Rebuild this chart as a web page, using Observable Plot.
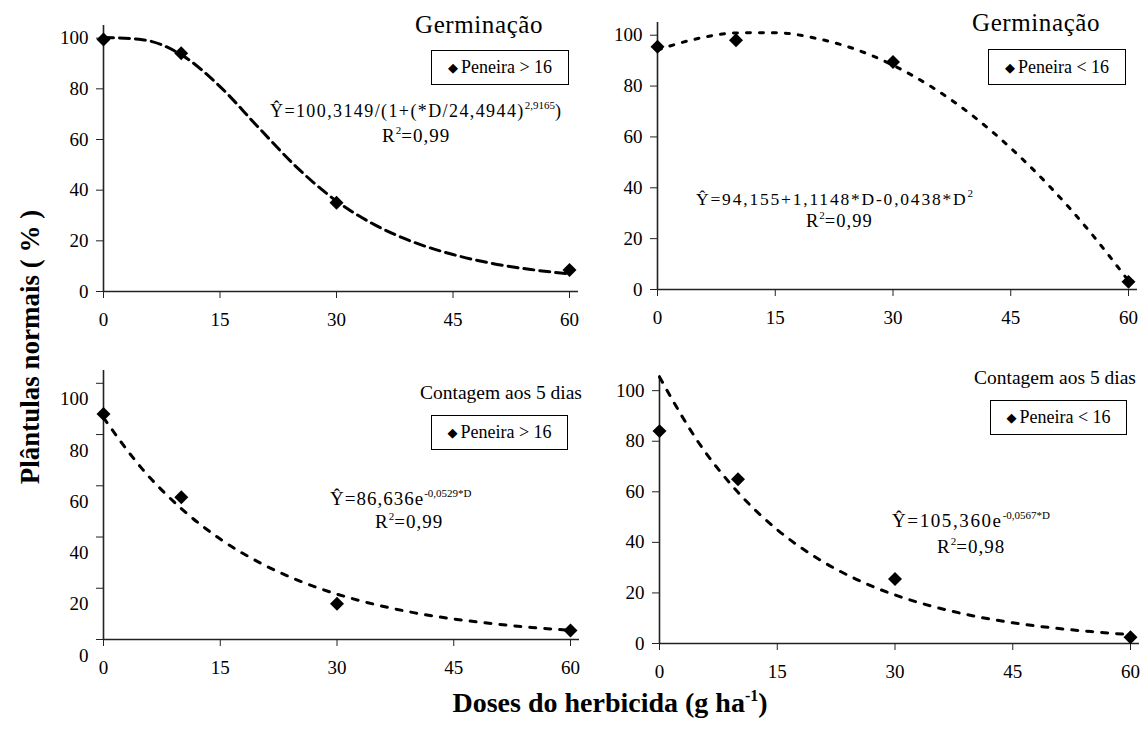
<!DOCTYPE html>
<html><head><meta charset="utf-8">
<script src="https://cdn.jsdelivr.net/npm/d3@7"></script>
<script src="https://cdn.jsdelivr.net/npm/@observablehq/plot@0.6"></script>
<style>
html,body{margin:0;padding:0;background:#fff;}
#wrap{position:relative;width:1144px;height:733px;overflow:hidden;font-family:'Liberation Serif','Tinos','DejaVu Serif',serif;color:#000;}
.t{position:absolute;white-space:nowrap;line-height:1;}
.eq{letter-spacing:1px;}
.leg{position:absolute;border:1px solid #000;background:#fff;font-size:18px;box-sizing:border-box;display:flex;align-items:center;justify-content:center;white-space:nowrap;}
sup{font-size:11px;vertical-align:8px;letter-spacing:0;line-height:0;}
</style></head>
<body><div id="wrap"></div>
<script>
// ---- data ----
const doses = [0, 10, 30, 60];
const germMaior = [99.5, 94, 35, 8.5];     // Germinação, Peneira > 16
const germMenor = [95.5, 98, 89.5, 3];     // Germinação, Peneira < 16
const cont5Maior = [88, 55.5, 14, 3.5];    // Contagem aos 5 dias, Peneira > 16
const cont5Menor = [84, 65, 25.5, 2.5];    // Contagem aos 5 dias, Peneira < 16

const fitDoses = [0, 5, 10, 15, 20, 25, 30, 35, 40, 45, 50, 55, 60];
const fitGermMaior = [100.3, 99.4, 93.5, 80.9, 64.6, 48.7, 35.7, 26.2, 19.4, 14.6, 11.1, 8.7, 6.9];
const fitGermMenor = [94.2, 98.6, 100.9, 101.0, 98.9, 94.7, 88.2, 79.5, 68.7, 55.6, 40.4, 23.0, 3.4];
const fitCont5Maior = [86.6, 66.5, 51.1, 39.2, 30.1, 23.1, 17.7, 13.6, 10.4, 8.0, 6.2, 4.7, 3.6];
const fitCont5Menor = [105.4, 79.4, 59.8, 45.0, 33.9, 25.5, 19.2, 14.5, 10.9, 8.2, 6.2, 4.7, 3.5];

const xTicks = [0, 15, 30, 45, 60];
const yTicks = [0, 20, 40, 60, 80, 100];

const wrap = document.getElementById("wrap");
const font = "'Liberation Serif', 'Tinos', 'DejaVu Serif', serif";

function panel({left, top, width, height, ml, mr, mt, mb, ymax, obs, fit, dash, sw, labelDy = 0}) {
  const pts = doses.map((d, i) => ({d, v: obs[i]}));
  const line = fitDoses.map((d, i) => ({d, v: fit[i]}));
  const chart = Plot.plot({
    width, height,
    marginLeft: ml, marginRight: mr, marginTop: mt, marginBottom: mb,
    style: {fontFamily: font, fontSize: "19px", color: "#000", background: "transparent", overflow: "visible"},
    x: {domain: [0, 60], axis: null, label: null},
    y: {domain: [0, ymax], axis: null, label: null},
    marks: [
      Plot.ruleY([0], {stroke: "#222", strokeWidth: 1.6, insetRight: -9}),
      Plot.ruleX([0], {stroke: "#222", strokeWidth: 1.6}),
      Plot.axisX({ticks: xTicks, tickSize: 7, tickPadding: 14, tickFormat: d => d, fontSize: 19, stroke: "#222"}),
      Plot.axisY({ticks: yTicks, tickSize: 7, tickFormat: () => "", stroke: "#222", label: null}),
      Plot.axisY({ticks: yTicks, tickSize: 0, tickPadding: 15, dy: labelDy, tickFormat: d => d, fontSize: 19, label: null}),
      Plot.line(line, {x: "d", y: "v", stroke: "#000", strokeWidth: sw, strokeDasharray: dash, curve: "monotone-x"}),
      Plot.dot(pts, {x: "d", y: "v", symbol: "diamond2", r: 6.3, fill: "#000", stroke: "none"})
    ]
  });
  chart.style.left = left + "px";
  chart.style.top = top + "px";
  chart.style.position = "absolute";
  wrap.appendChild(chart);
}

panel({left: 0, top: 0, width: 590, height: 345, ml: 103, mr: 21, mt: 25, mb: 54, ymax: 105,
  obs: germMaior, fit: fitGermMaior, dash: "10,6", sw: 3});
panel({left: 570, top: 0, width: 574, height: 345, ml: 87, mr: 16, mt: 22, mb: 56, ymax: 105,
  obs: germMenor, fit: fitGermMenor, dash: "4,9", sw: 3});
panel({left: 0, top: 345, width: 590, height: 388, ml: 103, mr: 20, mt: 25, mb: 94, ymax: 105,
  obs: cont5Maior, fit: fitCont5Maior, dash: "6,9", sw: 3, labelDy: 16});
panel({left: 570, top: 345, width: 574, height: 388, ml: 89, mr: 14, mt: 30, mb: 90, ymax: 106,
  obs: cont5Menor, fit: fitCont5Menor, dash: "6,9", sw: 3});

function txt(html, left, top, size, extra = "", cls = "t") {
  const d = document.createElement("div");
  d.className = cls;
  d.style.left = left + "px"; d.style.top = top + "px"; d.style.fontSize = size + "px";
  d.style.cssText += extra;
  d.innerHTML = html;
  wrap.appendChild(d);
  return d;
}
function leg(label, left, top, w, h) {
  const d = document.createElement("div");
  d.className = "leg";
  d.style.left = left + "px"; d.style.top = top + "px"; d.style.width = w + "px"; d.style.height = h + "px";
  d.innerHTML = '<span style="font-family:DejaVu Sans;font-size:13px;margin-right:3px">◆</span>' + label;
  wrap.appendChild(d);
}

// titles
txt("Germinação", 415, 12, 25, "letter-spacing:0.6px;");
txt("Germinação", 972, 10, 25, "letter-spacing:0.6px;");
txt("Contagem aos 5 dias", 420, 383, 19.5);
txt("Contagem aos 5 dias", 974, 368, 19.5);

// legends
leg("Peneira &gt; 16", 431, 50, 138, 35);
leg("Peneira &lt; 16", 988, 49, 138, 36);
leg("Peneira &gt; 16", 431, 415, 137, 35);
leg("Peneira &lt; 16", 990, 400, 137, 35);

// equations
txt("Ŷ=100,3149/(1+(*D/24,4944)<sup>2,9165</sup>)", 270, 102, 18, "letter-spacing:1.4px;", "t eq");
txt("R<sup>2</sup>=0,99", 382, 126, 19, "", "t eq");
txt("Ŷ=94,155+1,1148*D-0,0438*D<sup>2</sup>", 696, 191, 17.5, "letter-spacing:1.8px;", "t eq");
txt("R<sup>2</sup>=0,99", 806, 212, 18.5, "", "t eq");
txt("Ŷ=86,636e<sup>-0,0529*D</sup>", 330, 489, 19, "", "t eq");
txt("R<sup>2</sup>=0,99", 375, 512, 19, "", "t eq");
txt("Ŷ=105,360e<sup>-0,0567*D</sup>", 892, 511, 19, "letter-spacing:1.6px;", "t eq");
txt("R<sup>2</sup>=0,98", 937, 537, 19, "", "t eq");

// axis titles
txt("Plântulas normais ( % )", 30, 347, 27, "font-weight:bold;transform:translate(-50%,-50%) rotate(-90deg);");
txt("Doses do herbicida (g ha<sup style='font-size:16px;vertical-align:11px'>-1</sup>)", 610, 703, 28, "font-weight:bold;transform:translate(-50%,-50%);");
</script>
</body></html>
